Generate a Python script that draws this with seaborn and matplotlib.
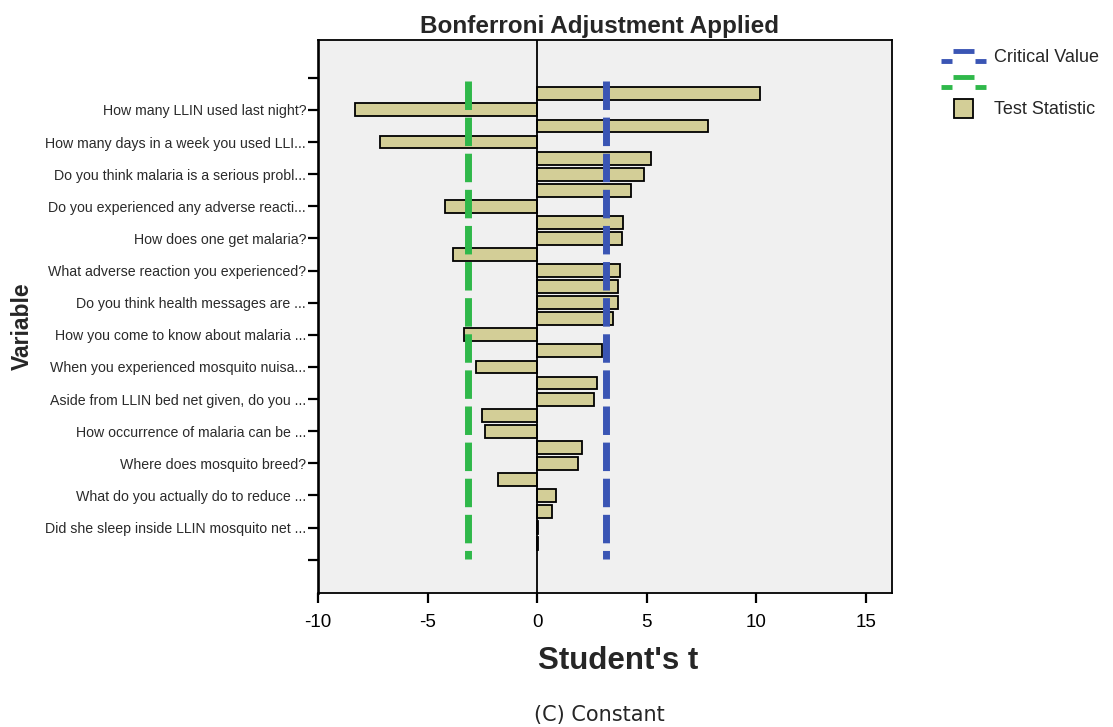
import numpy as np
import pandas as pd
import matplotlib
matplotlib.use("Agg")
import matplotlib.pyplot as plt
import seaborn as sns
from matplotlib.lines import Line2D
from matplotlib.patches import Rectangle
from matplotlib.legend_handler import HandlerBase

# Labels shown on every second variable row (top to bottom)
variable_labels = [
    "How many LLIN used last night?",
    "How many days in a week you used LLI...",
    "Do you think malaria is a serious probl...",
    "Do you experienced any adverse reacti...",
    "How does one get malaria?",
    "What adverse reaction you experienced?",
    "Do you think health messages are ...",
    "How you come to know about malaria ...",
    "When you experienced mosquito nuisa...",
    "Aside from LLIN bed net given, do you ...",
    "How occurrence of malaria can be ...",
    "Where does mosquito breed?",
    "What do you actually do to reduce ...",
    "Did she sleep inside LLIN mosquito net ...",
]

# Student's t test statistic for each variable row (top to bottom)
t_values = [
    10.17, -8.32, 7.80, -7.19, 5.21, 4.88, 4.28, -4.21, 3.94, 3.89,
    -3.84, 3.78, 3.68, 3.68, 3.45, -3.34, 2.98, -2.78, 2.73, 2.58,
    -2.53, -2.40, 2.06, 1.86, -1.79, 0.86, 0.69, 0.05, 0.03,
]

critical_value = 3.16
x_ticks = [-10, -5, 0, 5, 10, 15]

BAR_COLOR = "#d3ce97"
BLUE = "#3a55b4"
GREEN = "#2fb84a"
PANEL = "#f0f0f0"


class StaggeredDashHandler(HandlerBase):
    """Legend key drawn as three short dashes, the middle one raised."""

    def create_artists(self, legend, orig_handle, xdescent, ydescent,
                       width, height, fontsize, trans):
        color = orig_handle.get_color()
        lw = orig_handle.get_linewidth()
        x0, y0 = -xdescent, -ydescent
        hi = y0 + 0.78 * height
        lo = y0 + 0.25 * height
        pieces = [(0.0, 0.24, lo), (0.26, 0.73, hi), (0.75, 1.0, lo)]
        artists = []
        for a, b, y in pieces:
            artists.append(Line2D([x0 + a * width, x0 + b * width], [y, y],
                                  color=color, lw=lw, solid_capstyle="butt",
                                  transform=trans))
        return artists


class SquarePatchHandler(HandlerBase):
    """Legend key drawn as a centred square swatch."""

    def create_artists(self, legend, orig_handle, xdescent, ydescent,
                       width, height, fontsize, trans):
        side = height
        cx = -xdescent + width / 2
        rect = Rectangle((cx - side / 2, -ydescent), side, side,
                         facecolor=orig_handle.get_facecolor(),
                         edgecolor=orig_handle.get_edgecolor(),
                         lw=orig_handle.get_linewidth(), transform=trans)
        return [rect]


sns.set_theme(style="white")
plt.rcParams["font.family"] = ["Liberation Sans", "DejaVu Sans"]

W, H = 1113, 727
fig = plt.figure(figsize=(W / 100, H / 100), dpi=100)
fig.patch.set_facecolor("white")
left, right, top, bottom = 318, 892, 40, 593
ax = fig.add_axes([left / W, 1 - bottom / H, (right - left) / W, (bottom - top) / H])
ax.set_facecolor(PANEL)

df = pd.DataFrame({
    "row": np.arange(1, len(t_values) + 1),
    "t": t_values,
})

sns.barplot(data=df, x="t", y="row", orient="y", native_scale=True,
            width=0.8, color=BAR_COLOR, saturation=1, edgecolor="black",
            linewidth=1.3, ax=ax, zorder=3)

# zero reference line
ax.axvline(0, color="black", lw=1.3, zorder=4)

# critical value bounds
ax.vlines([critical_value], 0.2, 29.95, colors=BLUE, linewidth=5,
          linestyles=[(0, (4.1, 1.1))], zorder=5)
ax.vlines([-critical_value], 0.2, 29.95, colors=GREEN, linewidth=5,
          linestyles=[(0, (4.1, 1.1))], zorder=5)

ax.set_xlim(-10, 16.2)
ax.set_ylim(32.07, -2.35)
ax.set_xticks(x_ticks)
ax.set_xticklabels([str(v) for v in x_ticks])
tick_rows = np.arange(0, 31, 2)
ax.set_yticks(tick_rows)
ax.set_yticklabels([""] + variable_labels + [""])
ax.set_xlabel("")
ax.set_ylabel("")

ax.tick_params(axis="y", direction="out", length=7.5, width=1.6, pad=1,
               labelsize=10.2, colors="black", labelcolor="#2a2a2a", left=True)
ax.tick_params(axis="x", direction="out", length=7, width=1.6, pad=8,
               labelsize=13.5, colors="black", bottom=True)
for side in ["left", "right", "top", "bottom"]:
    ax.spines[side].set_visible(True)
    ax.spines[side].set_color("black")
    ax.spines[side].set_linewidth(1.3)
ax.spines["left"].set_linewidth(1.9)

fig.text(600 / W, 1 - 27 / H, "Bonferroni Adjustment Applied",
         ha="center", va="center", fontweight="bold", fontsize=17.5)
fig.text(22 / W, 1 - 326 / H, "Variable", rotation=90, ha="center",
         va="center", fontweight="bold", fontsize=16.5)
fig.text(618 / W, 1 - 661 / H, "Student's t", ha="center", va="center",
         fontweight="bold", fontsize=22.5)
fig.text(599 / W, 1 - 715 / H, "(C) Constant", ha="center", va="center",
         fontsize=15, family=["DejaVu Sans"])

crit_handle = Line2D([], [], color=BLUE, lw=3.5)
crit_handle_low = Line2D([], [], color=GREEN, lw=3.5)
stat_handle = Rectangle((0, 0), 1, 1, facecolor=BAR_COLOR, edgecolor="black", lw=1.3)
fig.legend(
    handles=[crit_handle, crit_handle_low, stat_handle],
    labels=["Critical Value", "", "Test Statistic"],
    handler_map={crit_handle: StaggeredDashHandler(),
                 crit_handle_low: StaggeredDashHandler(),
                 stat_handle: SquarePatchHandler()},
    loc="upper left", bbox_to_anchor=(941 / W, 1 - 47 / H),
    frameon=False, fontsize=13, handlelength=2.5, handleheight=1.22,
    handletextpad=0.45, labelspacing=0.36, borderpad=0, borderaxespad=0,
)

fig.savefig("out.png", dpi=100, facecolor="white")
